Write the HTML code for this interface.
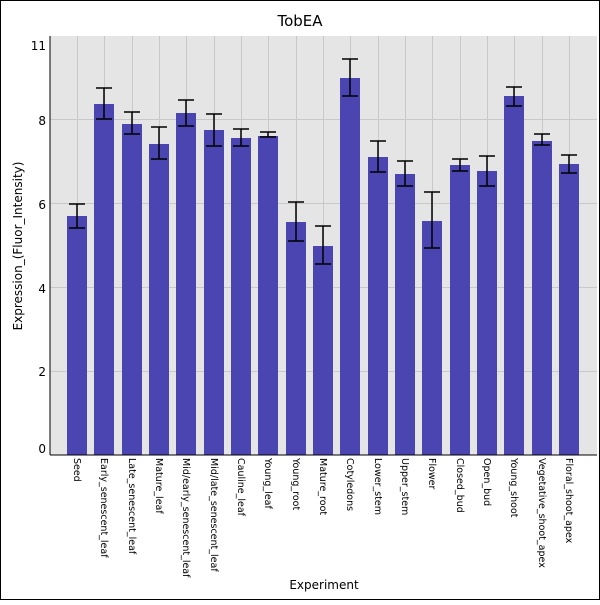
<!DOCTYPE html><html><head><style>body{margin:0}</style></head><body>
<svg width="600" height="600" xmlns="http://www.w3.org/2000/svg" font-family="DejaVu Sans, Liberation Sans, sans-serif">
<rect x="0.5" y="0.5" width="599" height="599" fill="#fff" stroke="#000"/>
<text x="300" y="26" font-size="15" text-anchor="middle">TobEA</text>
<rect x="50" y="36" width="547" height="419" fill="#e5e5e5"/>
<g stroke="#c8c8c8" stroke-width="1">
<line x1="50" x2="597" y1="119.5" y2="119.5"/><line x1="50" x2="597" y1="203.5" y2="203.5"/><line x1="50" x2="597" y1="287.5" y2="287.5"/><line x1="50" x2="597" y1="371.5" y2="371.5"/>
<path d="M77.5,36V455M104.5,36V455M132.5,36V455M159.5,36V455M186.5,36V455M214.5,36V455M241.5,36V455M268.5,36V455M296.5,36V455M323.5,36V455M350.5,36V455M378.5,36V455M405.5,36V455M432.5,36V455M460.5,36V455M487.5,36V455M514.5,36V455M542.5,36V455M569.5,36V455"/>
</g>
<g fill="#4b45b2">
<rect x="67" y="216" width="20" height="239"/>
<rect x="94" y="104" width="20" height="351"/>
<rect x="122" y="124" width="20" height="331"/>
<rect x="149" y="144" width="20" height="311"/>
<rect x="176" y="113" width="20" height="342"/>
<rect x="204" y="130" width="20" height="325"/>
<rect x="231" y="138" width="20" height="317"/>
<rect x="258" y="136" width="20" height="319"/>
<rect x="286" y="222" width="20" height="233"/>
<rect x="313" y="246" width="20" height="209"/>
<rect x="340" y="78" width="20" height="377"/>
<rect x="368" y="157" width="20" height="298"/>
<rect x="395" y="174" width="20" height="281"/>
<rect x="422" y="221" width="20" height="234"/>
<rect x="450" y="165" width="20" height="290"/>
<rect x="477" y="171" width="20" height="284"/>
<rect x="504" y="96" width="20" height="359"/>
<rect x="532" y="141" width="20" height="314"/>
<rect x="559" y="164" width="20" height="291"/>
</g>
<g stroke="#000" stroke-width="1.5" fill="none">
<path d="M77,204V228M69,204H85M69,228H85"/>
<path d="M104,88V119M96,88H112M96,119H112"/>
<path d="M132,112V134M124,112H140M124,134H140"/>
<path d="M159,127V159M151,127H167M151,159H167"/>
<path d="M186,100V126M178,100H194M178,126H194"/>
<path d="M214,114V146M206,114H222M206,146H222"/>
<path d="M241,129V146M233,129H249M233,146H249"/>
<path d="M268,132V137M260,132H276M260,137H276"/>
<path d="M296,202V241M288,202H304M288,241H304"/>
<path d="M323,226V264M315,226H331M315,264H331"/>
<path d="M350,59V96M342,59H358M342,96H358"/>
<path d="M378,141V172M370,141H386M370,172H386"/>
<path d="M405,161V186M397,161H413M397,186H413"/>
<path d="M432,192V248M424,192H440M424,248H440"/>
<path d="M460,159V171M452,159H468M452,171H468"/>
<path d="M487,156V186M479,156H495M479,186H495"/>
<path d="M514,87V106M506,87H522M506,106H522"/>
<path d="M542,134V145M534,134H550M534,145H550"/>
<path d="M569,155V173M561,155H577M561,173H577"/>
</g>
<line x1="50" x2="50" y1="36" y2="455" stroke="#000"/>
<line x1="50" x2="597" y1="455" y2="455" stroke="#000"/>
<g font-size="12" text-anchor="end">
<text x="46" y="50">11</text><text x="46" y="125">8</text><text x="46" y="209">6</text><text x="46" y="293">4</text><text x="46" y="376">2</text><text x="46" y="453">0</text>
</g>
<g font-size="9.5">
<text transform="translate(74,458) rotate(90)">Seed</text>
<text transform="translate(101,458) rotate(90)">Early_senescent_leaf</text>
<text transform="translate(129,458) rotate(90)">Late_senescent_leaf</text>
<text transform="translate(156,458) rotate(90)">Mature_leaf</text>
<text transform="translate(183,458) rotate(90)">Mid/early_senescent_leaf</text>
<text transform="translate(211,458) rotate(90)">Mid/late_senescent_leaf</text>
<text transform="translate(238,458) rotate(90)">Cauline_leaf</text>
<text transform="translate(265,458) rotate(90)">Young_leaf</text>
<text transform="translate(293,458) rotate(90)">Young_root</text>
<text transform="translate(320,458) rotate(90)">Mature_root</text>
<text transform="translate(347,458) rotate(90)">Cotyledons</text>
<text transform="translate(375,458) rotate(90)">Lower_stem</text>
<text transform="translate(402,458) rotate(90)">Upper_stem</text>
<text transform="translate(429,458) rotate(90)">Flower</text>
<text transform="translate(457,458) rotate(90)">Closed_bud</text>
<text transform="translate(484,458) rotate(90)">Open_bud</text>
<text transform="translate(511,458) rotate(90)">Young_shoot</text>
<text transform="translate(539,458) rotate(90)">Vegetative_shoot_apex</text>
<text transform="translate(566,458) rotate(90)">Floral_shoot_apex</text>
</g>
<text x="324" y="589" font-size="12" text-anchor="middle">Experiment</text>
<text transform="translate(22,246) rotate(-90)" font-size="12" text-anchor="middle">Expression_(Fluor_Intensity)</text>
</svg></body></html>
